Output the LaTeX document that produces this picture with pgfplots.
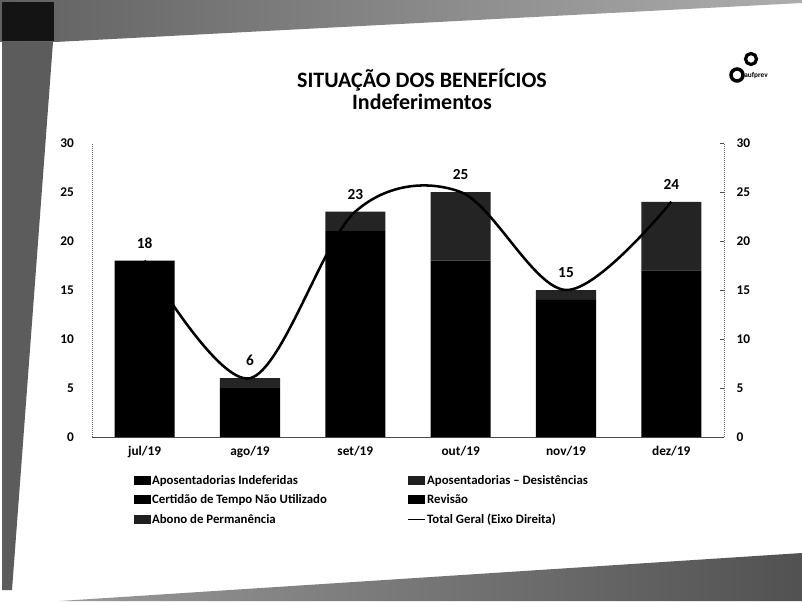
\documentclass[border=0pt]{standalone}
\usepackage{fontspec}
\setmainfont{Carlito}
\usepackage{pgfplots}
\usepackage{pgfplotstable}
\pgfplotsset{compat=1.18}

\pgfplotstableread{
x s1 s2 s3 s4 s5 tot
0 18 0 0 0 0 18
1 5 1 0 0 0 6
2 21 2 0 0 0 23
3 18 7 0 0 0 25
4 14 1 0 0 0 15
5 17 7 0 0 0 24
}\data

\newcommand{\lcol}[1]{\makebox[191pt][l]{#1}}

\begin{document}
\begin{tikzpicture}
\path[use as bounding box] (0pt,0pt) rectangle (601.5pt,450.75pt);
\fill[white] (0pt,0pt) rectangle (601.5pt,450.75pt);
\begin{scope}[x=0.75pt,y=-0.75pt,shift={(0pt,450.75pt)}]
  % scanned page borders
  \shade[left color=black!62,right color=black!32] (0,0) -- (802,0) -- (802,3) -- (55,42) -- (0,42) -- cycle;
  \fill[black!92] (2,2) rectangle (54,41);
  \fill[black!64] (2,42) -- (53,42) -- (12,590) -- (2,590) -- cycle;
  \shade[left color=black!40,right color=black!68] (60,601) -- (802,553) -- (802,601) -- cycle;
  % logo
  \draw[line width=2.6pt] (737,75) circle (6);
  \draw[line width=2.4pt] (751,59) circle (5.5);
  \node[anchor=west,font=\fontsize{5.5}{6}\selectfont\bfseries,inner sep=0pt] at (744,76) {aufprev};
\end{scope}

\begin{axis}[
  at={(69pt,123pt)}, anchor=south west,
  scale only axis, width=474pt, height=220.5pt,
  ybar stacked, bar width=0.57,
  xmin=-0.5, xmax=5.5, ymin=0, ymax=30,
  xtick={0,1,2,3,4,5},
  xticklabels={jul/19,ago/19,set/19,out/19,nov/19,dez/19},
  ytick={0,5,...,30},
  axis x line*=bottom, axis y line*=left,
  x axis line style={black!70,line width=0.6pt},
  y axis line style={black!60,line width=0.5pt,densely dotted},
  major tick length=0pt,
  tick label style={font=\fontsize{10}{12}\selectfont\bfseries},
  /pgf/number format/assume math mode=true,
  xticklabel style={yshift=-3pt},
  yticklabel style={xshift=-10pt},
  legend style={at={(0.066,-0.125)}, anchor=north west, draw=none, fill=none,
    inner sep=0pt, legend columns=2, row sep=4.2pt,
    font=\fontsize{9.6}{11}\selectfont\bfseries,
    nodes={inner xsep=0.8pt, inner ysep=1pt}},
  legend cell align=left,
]
\addplot[fill=black, draw=none,
  legend image code/.code={\fill[black] (0pt,-3pt) rectangle (12.75pt,3.5pt);}]
  table[x=x,y=s1]{\data};
\addlegendentry{\lcol{Aposentadorias Indeferidas}}
\addplot[fill=black!86, draw=none,
  legend image code/.code={\fill[black!88] (0pt,-3pt) rectangle (12.75pt,3.5pt);}]
  table[x=x,y=s2]{\data};
\addlegendentry{Aposentadorias – Desistências}
\addplot[fill=black!92, draw=none,
  legend image code/.code={\fill[black] (0pt,-3pt) rectangle (12.75pt,3.5pt);}]
  table[x=x,y=s3]{\data};
\addlegendentry{\lcol{Certidão de Tempo Não Utilizado}}
\addplot[fill=black!90, draw=none,
  legend image code/.code={\fill[black] (0pt,-3pt) rectangle (12.75pt,3.5pt);}]
  table[x=x,y=s4]{\data};
\addlegendentry{Revisão}
\addplot[fill=black!84, draw=none,
  legend image code/.code={\fill[black!88] (0pt,-3pt) rectangle (12.75pt,3.5pt);}]
  table[x=x,y=s5]{\data};
\addlegendentry{\lcol{Abono de Permanência}}
\addlegendimage{legend image code/.code={\draw[black,line width=1pt] (0pt,0.2pt) -- (12.75pt,0.2pt);}}
\addlegendentry{Total Geral (Eixo Direita)}
\end{axis}

\begin{axis}[
  at={(69pt,123pt)}, anchor=south west,
  scale only axis, width=474pt, height=220.5pt,
  xmin=-0.5, xmax=5.5, ymin=0, ymax=30,
  axis x line=none, axis y line*=right,
  y axis line style={black!60,line width=0.5pt,densely dotted},
  ytick={0,5,...,30},
  major tick length=3pt,
  ytick style={black!70,line width=0.5pt},
  tick align=inside,
  tick label style={font=\fontsize{10}{12}\selectfont\bfseries},
  /pgf/number format/assume math mode=true,
  yticklabel style={xshift=6pt},
]
\addplot[black, line width=1.9pt, smooth, tension=0.55,
  nodes near coords,
  every node near coord/.append style={font=\fontsize{11.5}{13}\selectfont\bfseries, anchor=south, yshift=5pt, text=black}]
  table[x=x,y=tot]{\data};
\end{axis}

\begin{scope}[x=0.75pt,y=-0.75pt,shift={(0pt,450.75pt)}]
  \node[font=\fontsize{16.5}{18}\selectfont\bfseries] at (422,80) {SITUAÇÃO DOS BENEFÍCIOS};
  \node[font=\fontsize{16.5}{18}\selectfont\bfseries] at (422,102) {Indeferimentos};
\end{scope}
\end{tikzpicture}
\end{document}
